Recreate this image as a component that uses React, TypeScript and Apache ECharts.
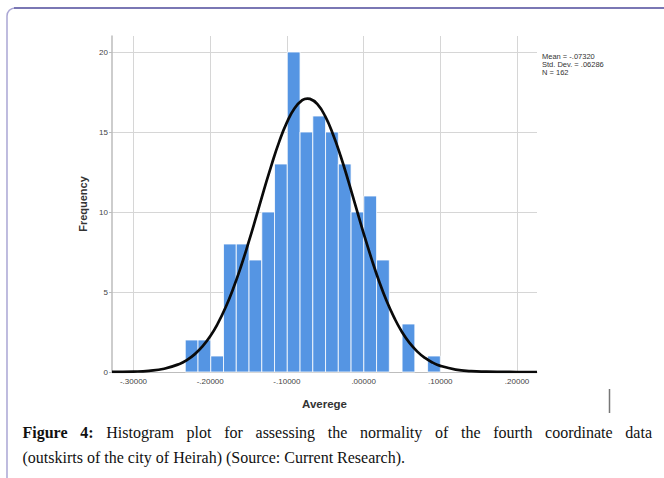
import React, { useEffect, useRef } from 'react';
import * as echarts from 'echarts';

// Histogram bins (lower/upper edges) and frequencies
const binEdges = [
  -0.2325, -0.215875, -0.19925, -0.182625, -0.166, -0.149375, -0.13275,
  -0.116125, -0.0995, -0.082875, -0.06625, -0.049625, -0.033, -0.016375,
  0.00025, 0.016875, 0.0335, 0.050125, 0.06675, 0.083375, 0.1,
];
const counts = [2, 2, 1, 8, 8, 7, 10, 13, 20, 15, 16, 15, 13, 10, 11, 7, 0, 3, 0, 1];

// Normal curve
const curveX = [
  -0.328, -0.3, -0.28, -0.26, -0.24, -0.23, -0.22, -0.21, -0.2, -0.19, -0.18,
  -0.17, -0.16, -0.15, -0.14, -0.13, -0.12, -0.11, -0.1, -0.09, -0.08, -0.0732,
  -0.07, -0.06, -0.05, -0.04, -0.03, -0.02, -0.01, 0, 0.01, 0.02, 0.03, 0.04,
  0.05, 0.06, 0.07, 0.08, 0.09, 0.1, 0.12, 0.14, 0.16, 0.18, 0.2, 0.226,
];
const curveY = [
  0.004, 0.025, 0.076, 0.206, 0.505, 0.762, 1.118, 1.602, 2.23, 3.04, 4.03,
  5.22, 6.58, 8.1, 9.71, 11.36, 12.95, 14.4, 15.6, 16.49, 16.99, 17.09,
  17.07, 16.72, 15.97, 14.86, 13.5, 11.95, 10.31, 8.67, 7.12, 5.69, 4.44, 3.38,
  2.5, 1.81, 1.275, 0.877, 0.588, 0.384, 0.152, 0.054, 0.018, 0.005, 0.001, 0,
];

const statsLines = ['Mean = -.07320', 'Std. Dev. = .06286', 'N = 162'];
const xAxisName = 'Averege';
const yAxisName = 'Frequency';
const captionBold = ['Figure', '4:'];
const captionLine1 = 'Histogram plot for assessing the normality of the fourth coordinate data';
const captionLine2 = '(outskirts of the city of Heirah) (Source: Current Research).';

const SANS = 'Arial, "Liberation Sans", sans-serif';
const SERIF = '"Liberation Serif", "Times New Roman", serif';

function fmtTick(v: number): string {
  if (Math.abs(v) < 1e-9) return '.00000';
  return v.toFixed(5).replace('0.', '.');
}

export default function App() {
  const ref = useRef<HTMLDivElement>(null);

  useEffect(() => {
    if (!ref.current) return;
    const chart = echarts.init(ref.current, undefined, { renderer: 'svg' });

    // caption layout (justified first line)
    const canvas = document.createElement('canvas');
    const ctx = canvas.getContext('2d')!;
    const measure = (t: string, bold: boolean) => {
      ctx.font = `${bold ? 'bold ' : ''}16px "Liberation Serif"`;
      return ctx.measureText(t).width;
    };
    const words1 = [
      ...captionBold.map((t) => ({ t, bold: true })),
      ...captionLine1.split(' ').map((t) => ({ t, bold: false })),
    ];
    const left = 22.5;
    const lineW = 629.5;
    const widths = words1.map((w) => measure(w.t, w.bold));
    const sum = widths.reduce((a, b) => a + b, 0);
    const gap = (lineW - sum) / (words1.length - 1);
    let cx = left;
    const captionEls: any[] = words1.map((w, i) => {
      const el = {
        type: 'text',
        x: cx,
        y: 432,
        style: {
          text: w.t,
          fontSize: 16,
          fontFamily: SERIF,
          fontWeight: w.bold ? 'bold' : 'normal',
          fill: '#111',
          verticalAlign: 'middle',
          align: 'left',
        },
      };
      cx += widths[i] + gap;
      return el;
    });
    captionEls.push({
      type: 'text',
      x: left,
      y: 457,
      style: {
        text: captionLine2,
        fontSize: 16,
        fontFamily: SERIF,
        fill: '#111',
        verticalAlign: 'middle',
        align: 'left',
      },
    });

    const histData = counts.map((c, i) => [binEdges[i], binEdges[i + 1], c]);
    const curveData = curveX.map((x, i) => [x, curveY[i]]);

    chart.setOption({
      animation: false,
      backgroundColor: '#ffffff',
      grid: { left: 112, right: 127, top: 36, bottom: 106, containLabel: false },
      xAxis: {
        type: 'value',
        min: -0.328,
        max: 0.226,
        splitNumber: 5,
        name: xAxisName,
        nameLocation: 'middle',
        nameGap: 26,
        nameTextStyle: { fontFamily: SANS, fontSize: 11.5, fontWeight: 'bold', color: '#333' },
        axisLine: { show: true, onZero: false, lineStyle: { color: '#bdbdbd', width: 1 } },
        axisTick: { show: false },
        axisLabel: {
          fontFamily: SANS,
          fontSize: 8,
          color: '#444',
          margin: 5,
          showMinLabel: false,
          showMaxLabel: false,
          formatter: (v: number) => fmtTick(v),
        },
        splitLine: {
          show: true,
          showMinLine: false,
          showMaxLine: false,
          lineStyle: { color: '#d6d6d6', width: 1 },
        },
      },
      yAxis: {
        type: 'value',
        min: 0,
        max: 21,
        interval: 5,
        name: yAxisName,
        nameLocation: 'middle',
        nameRotate: 90,
        nameGap: 24,
        nameTextStyle: { fontFamily: SANS, fontSize: 11, fontWeight: 'bold', color: '#333' },
        axisLine: { show: true, onZero: false, lineStyle: { color: '#bdbdbd', width: 1.5 } },
        axisTick: { show: true, length: 3, lineStyle: { color: '#bdbdbd' } },
        axisLabel: {
          fontFamily: SANS,
          fontSize: 8,
          color: '#444',
          margin: 4,
          showMaxLabel: false,
        },
        splitLine: {
          show: true,
          showMaxLine: false,
          lineStyle: { color: '#d6d6d6', width: 1 },
        },
      },
      series: [
        {
          type: 'custom',
          z: 2,
          encode: { x: [0, 1], y: 2 },
          data: histData,
          renderItem: (params: any, api: any) => {
            const c = api.value(2);
            if (!c) return { type: 'group', children: [] };
            const p0 = api.coord([api.value(0), c]);
            const p1 = api.coord([api.value(1), 0]);
            return {
              type: 'rect',
              shape: { x: p0[0], y: p0[1], width: p1[0] - p0[0], height: p1[1] - p0[1] },
              style: { fill: '#5595e3', stroke: '#ffffff', lineWidth: 0.8 },
            };
          },
        },
        {
          type: 'line',
          z: 3,
          data: curveData,
          smooth: true,
          showSymbol: false,
          symbol: 'none',
          lineStyle: { color: '#0a0a0a', width: 2.7 },
        },
      ],
      graphic: [
        {
          type: 'rect',
          shape: { x: 7, y: 8, width: 700, height: 520, r: 8 },
          style: { fill: 'none', stroke: '#aaa6d4', lineWidth: 1.5 },
          silent: true,
        },
        {
          type: 'line',
          shape: { x1: 14, y1: 8, x2: 664, y2: 8 },
          style: { stroke: '#6360a6', lineWidth: 1.5 },
          silent: true,
        },
        {
          type: 'line',
          shape: { x1: 609.5, y1: 389, x2: 609.5, y2: 413 },
          style: { stroke: '#777777', lineWidth: 1.5 },
          silent: true,
        },
        ...statsLines.map((t, i) => ({
          type: 'text',
          x: 542,
          y: 56 + i * 8,
          style: {
            text: t,
            fontSize: 7.5,
            fontFamily: SANS,
            fill: '#333',
            verticalAlign: 'middle',
            align: 'left',
          },
        })),
        ...captionEls,
      ],
    });

    return () => {
      chart.dispose();
    };
  }, []);

  return (
    <div
      ref={ref}
      style={{ position: 'fixed', left: 0, top: 0, width: 664, height: 478, background: '#fff' }}
    />
  );
}
